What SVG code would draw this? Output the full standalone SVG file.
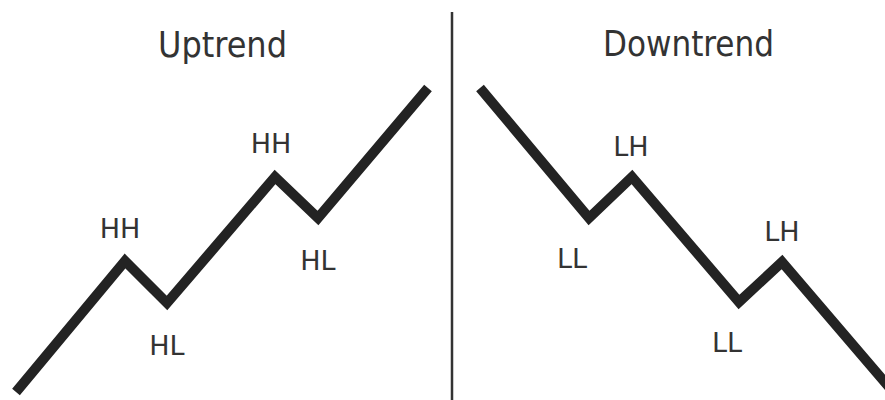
<svg xmlns="http://www.w3.org/2000/svg" width="885" height="400" viewBox="0 0 885 400">
<style>
.trend{fill:none;stroke:#232323;stroke-width:10;stroke-linejoin:miter;stroke-linecap:butt}
.title{font-family:"DejaVu Sans Condensed","DejaVu Sans",sans-serif;font-stretch:condensed;font-size:36px;fill:#333;text-anchor:middle}
.lbl{font-family:"DejaVu Sans",sans-serif;font-size:27px;fill:#333;text-anchor:middle}
</style>
<rect width="885" height="400" fill="#fff"/>
<g id="divider"><line x1="452" y1="12" x2="452" y2="400" stroke="#333" stroke-width="2.5"/></g>
<g id="uptrend">
<text class="title" x="222.5" y="57" textLength="129" lengthAdjust="spacingAndGlyphs">Uptrend</text>
<polyline class="trend" points="16,392 125,261 167,303 275,177 318,218 428,88"/>
<text class="lbl" x="120" y="238">HH</text>
<text class="lbl" x="167" y="355">HL</text>
<text class="lbl" x="271" y="153">HH</text>
<text class="lbl" x="318" y="270">HL</text>
</g>
<g id="downtrend">
<text class="title" x="688.5" y="56" textLength="171" lengthAdjust="spacingAndGlyphs">Downtrend</text>
<polyline class="trend" points="480,88 589,218 632,177 739,302 782,262 895,394"/>
<text class="lbl" x="572" y="268">LL</text>
<text class="lbl" x="631" y="156">LH</text>
<text class="lbl" x="727" y="352">LL</text>
<text class="lbl" x="782" y="241">LH</text>
</g>
</svg>
